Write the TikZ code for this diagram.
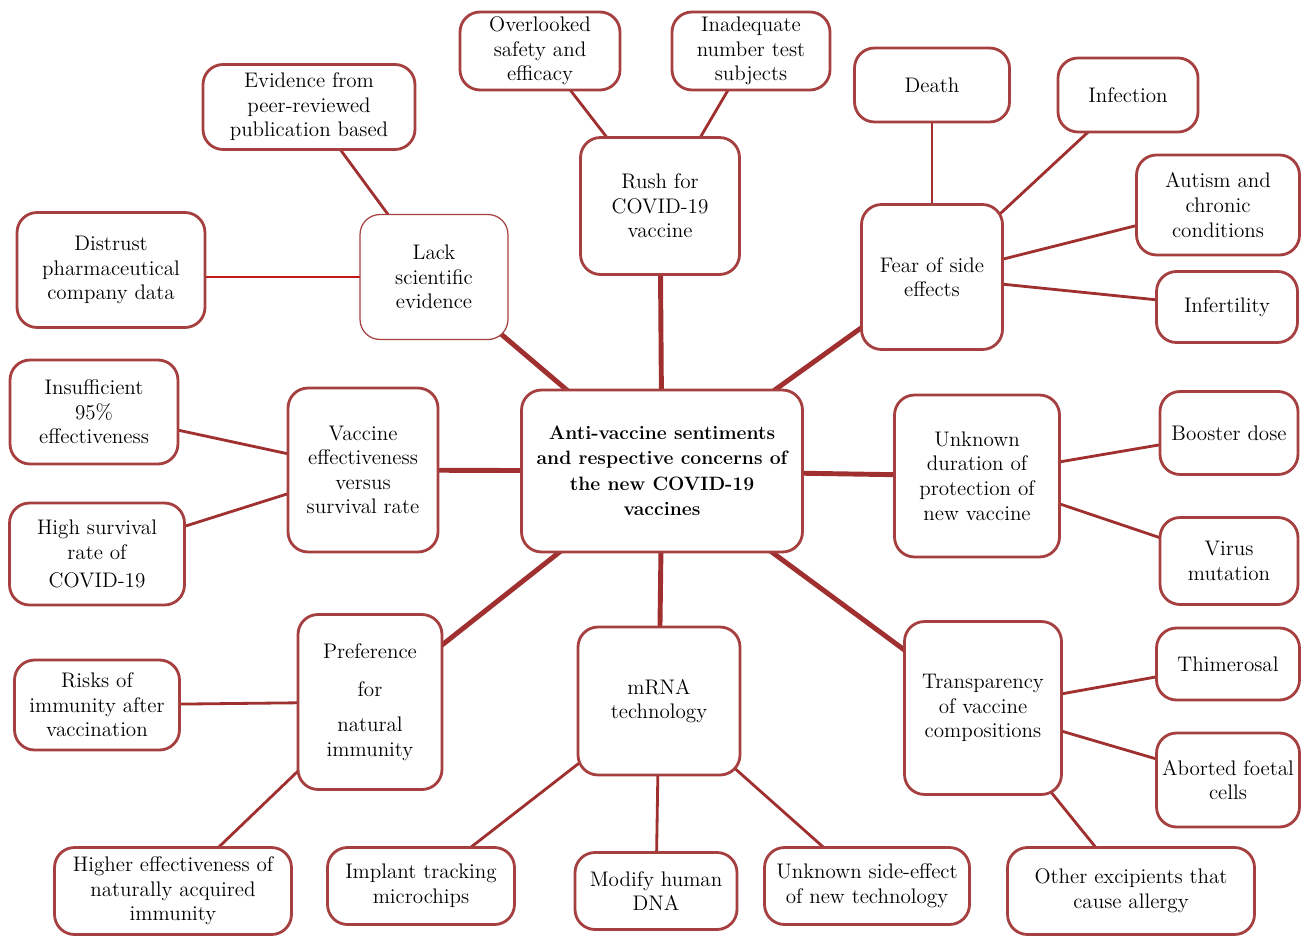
\documentclass[tikz,border=0pt]{standalone}
\usepackage{tikz}
\usetikzlibrary{backgrounds}

\definecolor{boxred}{RGB}{166,64,64}
\definecolor{linered}{RGB}{160,48,48}
\definecolor{brightred}{RGB}{196,24,24}

\tikzset{
    leaf/.style = {draw=boxred, line width=1.6pt, rounded corners=0.4cm, fill=white,
                   align=center, inner sep=2pt, font=\fontsize{12}{14}\selectfont},
    hub/.style  = {leaf, font=\fontsize{11}{14.5}\selectfont\bfseries},
    trunk/.style = {draw=linered, line width=2.8pt},
    twig/.style  = {draw=linered, line width=1.6pt}
}

\begin{document}
\begin{tikzpicture}[x=0.02cm, y=-0.02cm]
    \useasboundingbox (0,0) rectangle (1315,939);

    % centre
    \node[hub, minimum width=5.62cm, minimum height=3.24cm] (hub) at (662,471)
        {Anti-vaccine sentiments\\and respective concerns of\\the new COVID-19\\vaccines};

    % first ring
    \node[leaf, line width=0.7pt, minimum width=2.96cm, minimum height=2.5cm] (lack) at (434,277)
        {Lack\\scientific\\evidence};
    \node[leaf, minimum width=3.18cm, minimum height=2.74cm] (rush) at (660,206)
        {Rush for\\COVID-19\\vaccine};
    \node[leaf, minimum width=2.82cm, minimum height=2.9cm] (fear) at (932,277)
        {Fear of side\\effects};
    \node[leaf, minimum width=3.0cm, minimum height=3.28cm] (effect) at (363,470)
        {Vaccine\\effectiveness\\versus\\survival rate};
    \node[leaf, minimum width=3.3cm, minimum height=3.24cm] (duration) at (977,476)
        {Unknown\\duration of\\protection of\\new vaccine};
    \node[leaf, minimum width=2.88cm, minimum height=3.5cm] (natural) at (370,702)
        {Preference\\[8pt]for\\[6pt]natural\\immunity};
    \node[leaf, minimum width=3.24cm, minimum height=2.96cm] (mrna) at (659,701)
        {mRNA\\technology};
    \node[leaf, minimum width=3.14cm, minimum height=3.46cm] (transp) at (983,708)
        {Transparency\\of vaccine\\compositions};

    % outer ring
    \node[leaf, minimum width=4.24cm, minimum height=1.7cm] (evidence) at (309,107)
        {Evidence from\\peer-reviewed\\publication based};
    \node[leaf, minimum width=3.76cm, minimum height=2.3cm] (distrust) at (111,270)
        {Distrust\\pharmaceutical\\company data};
    \node[leaf, minimum width=3.2cm, minimum height=1.56cm] (overlook) at (540,51)
        {Overlooked\\safety and\\efficacy};
    \node[leaf, minimum width=3.16cm, minimum height=1.56cm] (subjects) at (751,51)
        {Inadequate\\number test\\subjects};
    \node[leaf, minimum width=3.1cm, minimum height=1.48cm] (death) at (932,85) {Death};
    \node[leaf, minimum width=2.8cm, minimum height=1.48cm] (infect) at (1128,95) {Infection};
    \node[leaf, minimum width=3.26cm, minimum height=2.0cm] (autism) at (1218,205)
        {Autism and\\chronic\\conditions};
    \node[leaf, minimum width=2.82cm, minimum height=1.42cm] (infert) at (1227,307) {Infertility};
    \node[leaf, minimum width=3.36cm, minimum height=2.08cm] (insuff) at (94,412)
        {Insufficient\\95\%\\effectiveness};
    \node[leaf, minimum width=3.5cm, minimum height=2.04cm] (survival) at (97,554)
        {High survival\\rate of\\[2pt]COVID-19};
    \node[leaf, minimum width=2.76cm, minimum height=1.66cm] (booster) at (1229,433) {Booster dose};
    \node[leaf, minimum width=2.76cm, minimum height=1.74cm] (mutation) at (1229,561)
        {Virus\\mutation};
    \node[leaf, minimum width=3.3cm, minimum height=1.8cm] (risks) at (97,705)
        {Risks of\\immunity after\\vaccination};
    \node[leaf, minimum width=2.86cm, minimum height=1.44cm] (thimer) at (1228,664) {Thimerosal};
    \node[leaf, minimum width=2.86cm, minimum height=1.88cm] (foetal) at (1228,780)
        {Aborted foetal\\cells};
    \node[leaf, minimum width=4.94cm, minimum height=1.74cm] (allergy) at (1131,891)
        {Other excipients that\\cause allergy};
    \node[leaf, minimum width=4.74cm, minimum height=1.74cm] (acquired) at (173,891)
        {Higher effectiveness of\\naturally acquired\\immunity};
    \node[leaf, minimum width=3.74cm, minimum height=1.54cm] (chips) at (421,886)
        {Implant tracking\\microchips};
    \node[leaf, minimum width=3.24cm, minimum height=1.54cm] (dna) at (656,891)
        {Modify human\\DNA};
    \node[leaf, minimum width=4.1cm, minimum height=1.54cm] (sideeff) at (867,886)
        {Unknown side-effect\\of new technology};

    % connectors go behind the boxes
    \begin{scope}[on background layer]
        \foreach \t in {lack,rush,fear,effect,duration,natural,mrna,transp}
            \draw[trunk] (hub.center) -- (\t.center);
        \draw[twig] (lack.center) -- (evidence.center);
        \draw[twig, draw=brightred] (lack.center) -- (lack.center -| distrust.center);
        \draw[twig] (rush.center) -- (overlook.center);
        \draw[twig] (rush.center) -- (subjects.center);
        \foreach \t in {death,infect,autism,infert}
            \draw[twig] (fear.center) -- (\t.center);
        \draw[twig] (effect.center) -- (insuff.center);
        \draw[twig] (effect.center) -- (survival.center);
        \draw[twig] (duration.center) -- (booster.center);
        \draw[twig] (duration.center) -- (mutation.center);
        \draw[twig] (natural.center) -- (risks.center);
        \draw[twig] (natural.center) -- (acquired.center);
        \foreach \t in {chips,dna,sideeff}
            \draw[twig] (mrna.center) -- (\t.center);
        \foreach \t in {thimer,foetal,allergy}
            \draw[twig] (transp.center) -- (\t.center);
    \end{scope}
\end{tikzpicture}
\end{document}
